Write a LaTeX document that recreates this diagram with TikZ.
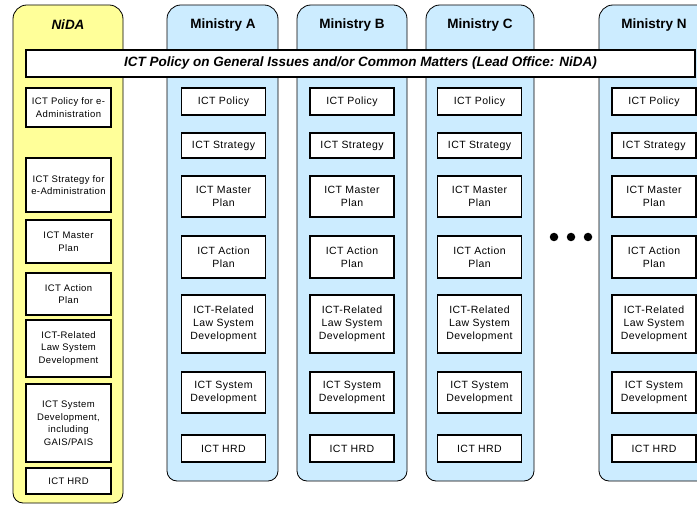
\documentclass[tikz,border=0pt]{standalone}
\usepackage{fontspec}
\setmainfont{Liberation Sans}
\newfontfamily\boxfont[LetterSpace=4]{Liberation Sans}
\definecolor{nidayellow}{HTML}{FFFF99}
\definecolor{minblue}{HTML}{CCECFF}
\tikzset{
  column/.style={draw=black, line width=0.8pt},
  itembox/.style={draw=black, line width=1.1pt, fill=white, minimum width=84pt,
    inner sep=1pt, align=center, font=\boxfont\fontsize{10.5}{13}\selectfont},
  nidabox/.style={itembox, minimum width=85pt, font=\boxfont\fontsize{9.5}{12.5}\selectfont},
  coltitle/.style={font=\bfseries\fontsize{13.5}{15}\selectfont},
  dot/.style={circle, fill=black, inner sep=0pt, minimum size=8.5pt}
}
\begin{document}
\begin{tikzpicture}[x=1pt,y=-1pt]
\useasboundingbox (0,0) rectangle (697,505);
\clip (0,0) rectangle (697,505);
\draw[column, fill=nidayellow] (13,250) [rounded corners=14pt] -- (13,5) -- (123,5) -- (123,250) [rounded corners=10pt] -- (123,503) -- (13,503) -- cycle;
\draw[column, fill=minblue] (167,250) [rounded corners=14pt] -- (167,5) -- (278,5) -- (278,250) [rounded corners=10pt] -- (278,481) -- (167,481) -- cycle;
\draw[column, fill=minblue] (297,250) [rounded corners=14pt] -- (297,5) -- (407,5) -- (407,250) [rounded corners=10pt] -- (407,481) -- (297,481) -- cycle;
\draw[column, fill=minblue] (426,250) [rounded corners=14pt] -- (426,5) -- (534,5) -- (534,250) [rounded corners=10pt] -- (534,481) -- (426,481) -- cycle;
\draw[column, fill=minblue] (599,250) [rounded corners=14pt] -- (599,5) -- (710,5) -- (710,250) [rounded corners=10pt] -- (710,481) -- (599,481) -- cycle;
\node[coltitle] (nidaTitle) at (68,25) {\itshape NiDA};
\node[coltitle] (aTitle) at (223,25) {Ministry A};
\node[coltitle] (bTitle) at (352,25) {Ministry B};
\node[coltitle] (cTitle) at (480,25) {Ministry C};
\node[coltitle] (nTitle) at (654,25) {Ministry N};
\node[draw=black, line width=1.1pt, fill=white, minimum width=669pt, minimum height=27pt,
  font=\bfseries\itshape\fontsize{13.5}{15}\selectfont] (banner) at (360.5,63.5)
  {ICT Policy on General Issues and/or Common Matters (Lead Office: NiDA)};
\node[nidabox, minimum height=39pt] (nidaPolicy) at (68.5,107.5) {ICT Policy for e-\\Administration};
\node[nidabox, minimum height=54pt] (nidaStrategy) at (68.5,185) {ICT Strategy for\\e-Administration};
\node[nidabox, minimum height=43pt] (nidaMaster) at (68.5,241.5) {ICT Master\\Plan};
\node[nidabox, minimum height=42pt] (nidaAction) at (68.5,294) {ICT Action\\Plan};
\node[nidabox, minimum height=57pt] (nidaLaw) at (68.5,348.5) {ICT-Related\\Law System\\Development};
\node[nidabox, minimum height=78pt] (nidaSystem) at (68.5,423) {ICT System\\Development,\\including\\GAIS/PAIS};
\node[nidabox, minimum height=26pt] (nidaHRD) at (68.5,481) {ICT HRD};
\node[itembox, minimum height=27pt] (aPolicy) at (223.5,101.5) {ICT Policy};
\node[itembox, minimum height=25pt] (aStrategy) at (223.5,145.5) {ICT Strategy};
\node[itembox, minimum height=41pt] (aMaster) at (223.5,196.5) {ICT Master\\Plan};
\node[itembox, minimum height=42pt] (aAction) at (223.5,257) {ICT Action\\Plan};
\node[itembox, minimum height=58pt] (aLaw) at (223.5,324) {ICT-Related\\Law System\\Development};
\node[itembox, minimum height=41pt] (aSystem) at (223.5,392.5) {ICT System\\Development};
\node[itembox, minimum height=27pt] (aHRD) at (223.5,448.5) {ICT HRD};
\node[itembox, minimum height=27pt] (bPolicy) at (352,101.5) {ICT Policy};
\node[itembox, minimum height=25pt] (bStrategy) at (352,145.5) {ICT Strategy};
\node[itembox, minimum height=41pt] (bMaster) at (352,196.5) {ICT Master\\Plan};
\node[itembox, minimum height=42pt] (bAction) at (352,257) {ICT Action\\Plan};
\node[itembox, minimum height=58pt] (bLaw) at (352,324) {ICT-Related\\Law System\\Development};
\node[itembox, minimum height=41pt] (bSystem) at (352,392.5) {ICT System\\Development};
\node[itembox, minimum height=27pt] (bHRD) at (352,448.5) {ICT HRD};
\node[itembox, minimum height=27pt] (cPolicy) at (479.5,101.5) {ICT Policy};
\node[itembox, minimum height=25pt] (cStrategy) at (479.5,145.5) {ICT Strategy};
\node[itembox, minimum height=41pt] (cMaster) at (479.5,196.5) {ICT Master\\Plan};
\node[itembox, minimum height=42pt] (cAction) at (479.5,257) {ICT Action\\Plan};
\node[itembox, minimum height=58pt] (cLaw) at (479.5,324) {ICT-Related\\Law System\\Development};
\node[itembox, minimum height=41pt] (cSystem) at (479.5,392.5) {ICT System\\Development};
\node[itembox, minimum height=27pt] (cHRD) at (479.5,448.5) {ICT HRD};
\node[itembox, minimum height=27pt] (nPolicy) at (654,101.5) {ICT Policy};
\node[itembox, minimum height=25pt] (nStrategy) at (654,145.5) {ICT Strategy};
\node[itembox, minimum height=41pt] (nMaster) at (654,196.5) {ICT Master\\Plan};
\node[itembox, minimum height=42pt] (nAction) at (654,257) {ICT Action\\Plan};
\node[itembox, minimum height=58pt] (nLaw) at (654,324) {ICT-Related\\Law System\\Development};
\node[itembox, minimum height=41pt] (nSystem) at (654,392.5) {ICT System\\Development};
\node[itembox, minimum height=27pt] (nHRD) at (654,448.5) {ICT HRD};
\node[dot] (dotA) at (554,237) {};
\node[dot] (dotB) at (571,237) {};
\node[dot] (dotC) at (588,237) {};
\end{tikzpicture}
\end{document}
